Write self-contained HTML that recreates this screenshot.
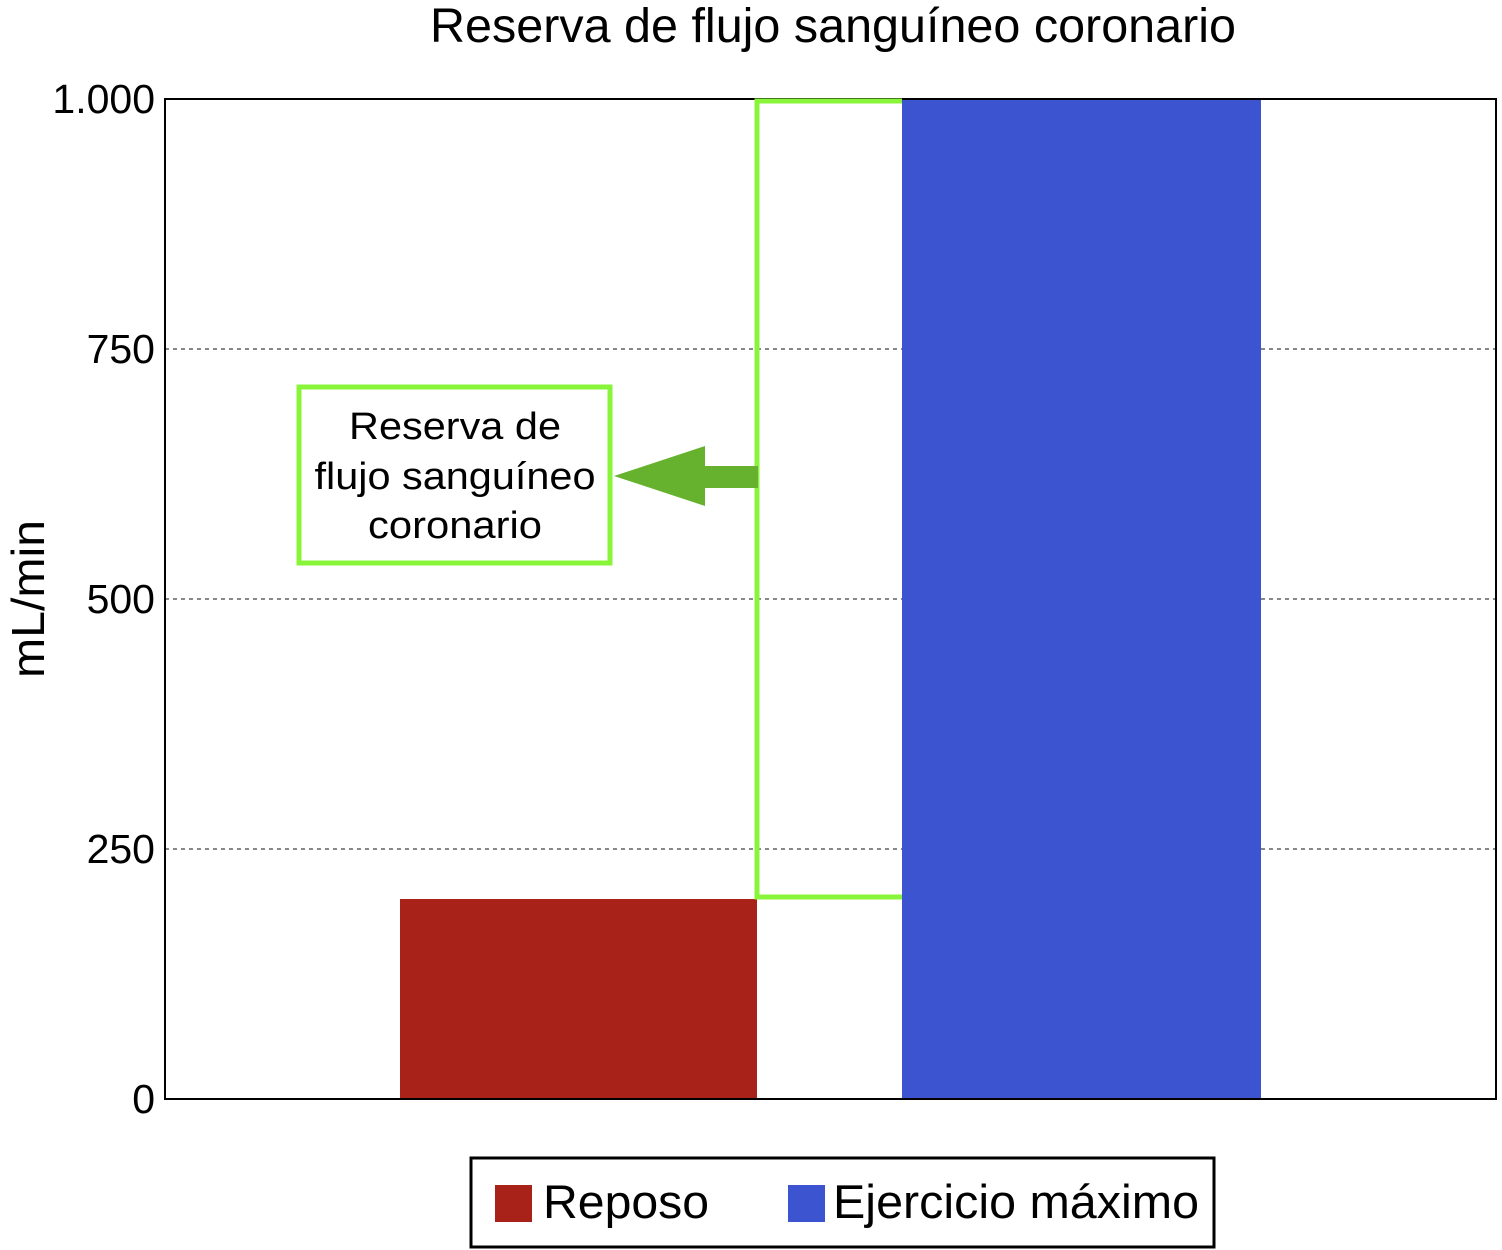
<!DOCTYPE html>
<html><head><meta charset="utf-8"><style>
body{margin:0;background:#fff}
svg{display:block;font-family:"Liberation Sans",sans-serif}
</style></head><body>
<svg width="1502" height="1250" viewBox="0 0 1502 1250">
<text x="833" y="42" font-size="48" text-anchor="middle" textLength="806" lengthAdjust="spacingAndGlyphs">Reserva de flujo sanguíneo coronario</text>
<g id="grid"></g>
<g id="bars"></g>
<rect x="165" y="99" width="1331" height="1000" fill="none" stroke="#000" stroke-width="2"/>
<g id="yticks"></g>
<text transform="translate(44,599) rotate(-90)" font-size="46" text-anchor="middle" textLength="158" lengthAdjust="spacingAndGlyphs">mL/min</text>
<polyline points="902,101 757,101 757,897 902,897" fill="none" stroke="#88f53a" stroke-width="5"/>
<rect x="299" y="387" width="311" height="176" fill="#fff" stroke="#88f53a" stroke-width="5"/>
<text font-size="38" text-anchor="middle"><tspan x="455" y="439" textLength="212" lengthAdjust="spacingAndGlyphs">Reserva de</tspan><tspan x="455" y="489" textLength="281" lengthAdjust="spacingAndGlyphs">flujo sanguíneo</tspan><tspan x="455" y="538" textLength="174" lengthAdjust="spacingAndGlyphs">coronario</tspan></text>
<polygon points="614,476 705,446 705,466 758,466 758,488 705,488 705,506" fill="#66b22e"/>
<rect x="471" y="1158" width="743" height="89" fill="#fff" stroke="#000" stroke-width="3"/>
<rect x="495" y="1185" width="37" height="37" fill="#a82219"/>
<text x="543" y="1218" font-size="47" textLength="166" lengthAdjust="spacingAndGlyphs">Reposo</text>
<rect x="788" y="1185" width="37" height="37" fill="#3c54cf"/>
<text x="833" y="1218" font-size="47" textLength="366" lengthAdjust="spacingAndGlyphs">Ejercicio máximo</text>
</svg>
<script>
const categories=["Reposo","Ejercicio máximo"];
const values=[200,1000];
const tickValues=[0,250,500,750,1000];
const tickLabels=["0","250","500","750","1.000"];
const colors=["#a82219","#3c54cf"];
const NS="http://www.w3.org/2000/svg";
const y=v=>1099-v*1000/1000;
const barX=[400,902],barW=[357,359];
const g=document.getElementById('grid'),b=document.getElementById('bars'),t=document.getElementById('yticks');
tickValues.forEach((v,i)=>{
 if(v>0&&v<1000){const l=document.createElementNS(NS,'line');
 l.setAttribute('x1',165);l.setAttribute('x2',1496);l.setAttribute('y1',y(v));l.setAttribute('y2',y(v));
 l.setAttribute('stroke','#888');l.setAttribute('stroke-width','2');l.setAttribute('stroke-dasharray','4,4');
 
 
 g.appendChild(l);}
 const tx=document.createElementNS(NS,'text');
 tx.setAttribute('x',155);tx.setAttribute('y',y(v)+14);tx.setAttribute('text-anchor','end');tx.setAttribute('font-size','41');
 tx.textContent=tickLabels[i];
 
 
 t.appendChild(tx);
});
values.forEach((v,i)=>{
 const r=document.createElementNS(NS,'rect');
 r.setAttribute('x',barX[i]);r.setAttribute('width',barW[i]);r.setAttribute('y',y(v));r.setAttribute('height',y(0)-y(v));r.setAttribute('fill',colors[i]);
 
 
 b.appendChild(r);
});
</script>
</body></html>
